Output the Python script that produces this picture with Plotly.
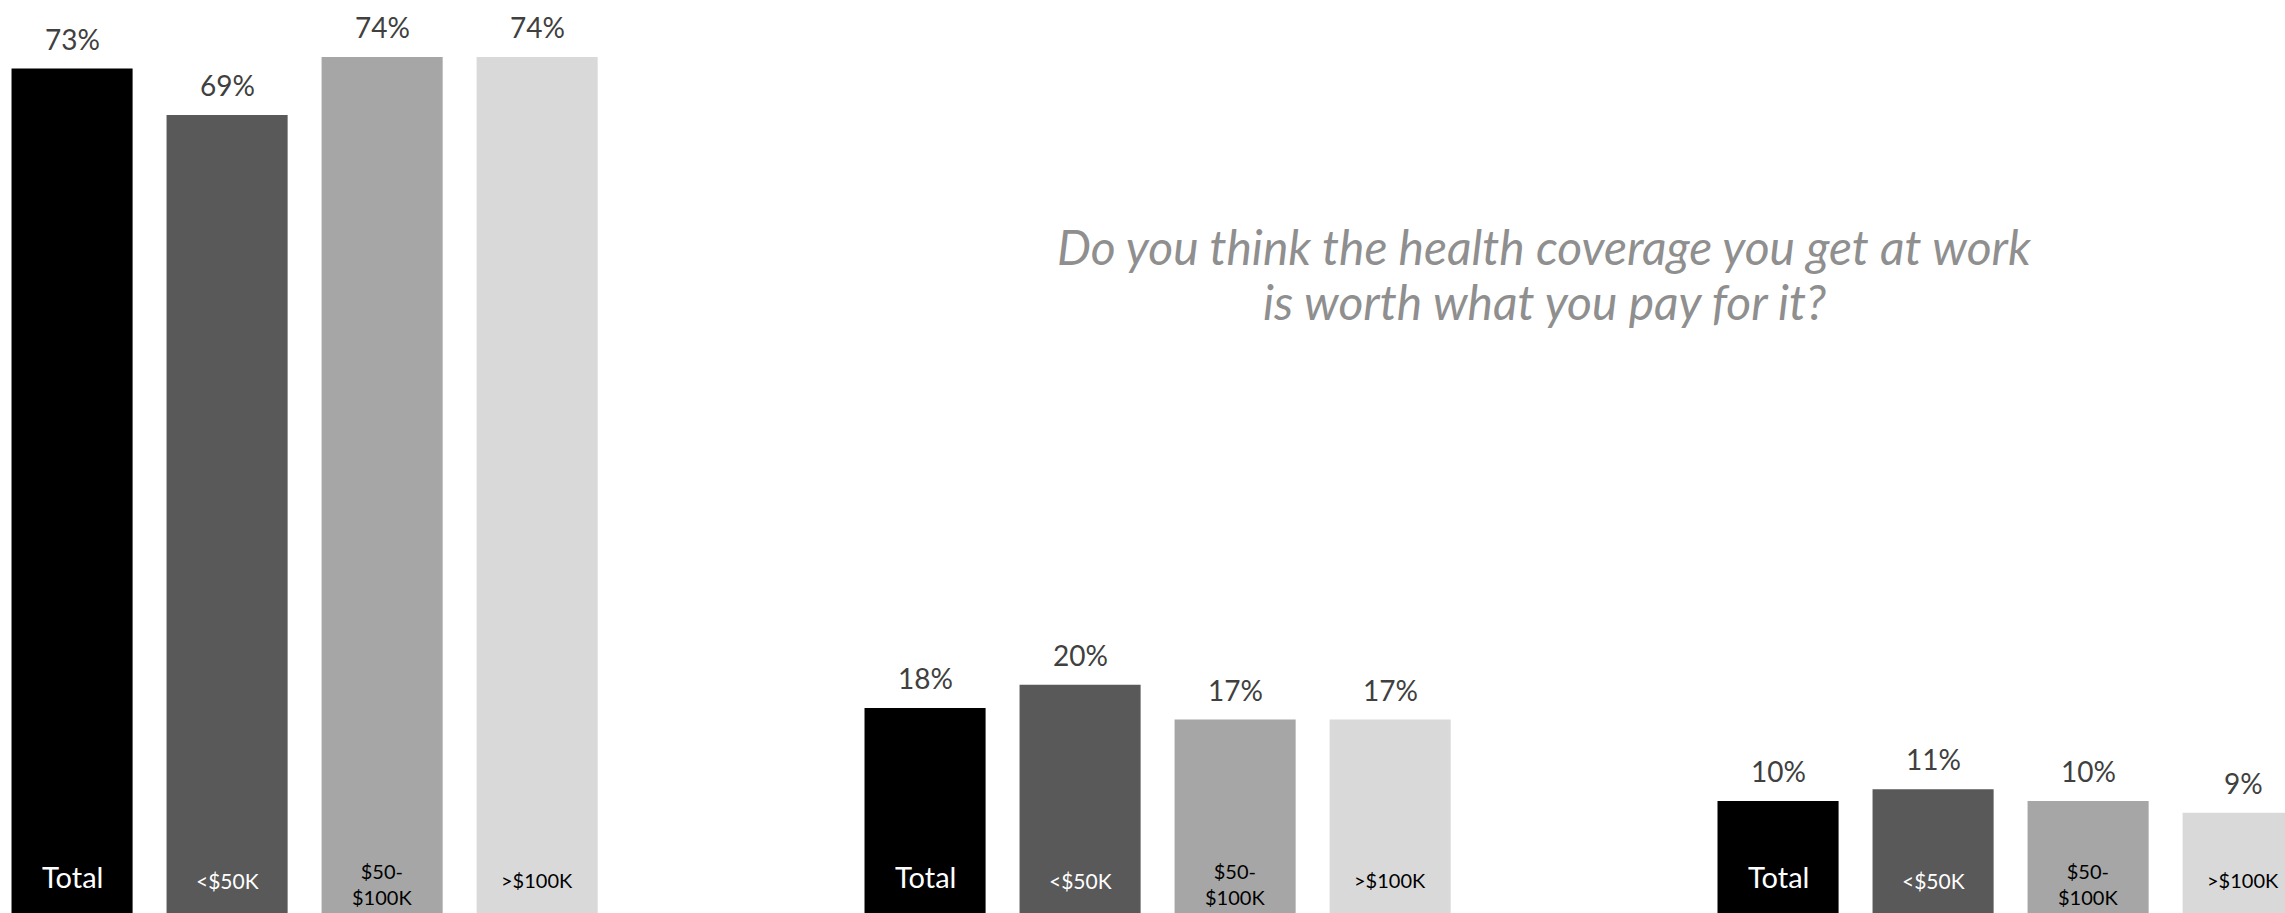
import plotly.graph_objects as go

# Income brackets (one bar per bracket in every answer group)
brackets = ["Total", "<$50K", "$50-<br>$100K", ">$100K"]
bar_colors = ["#000000", "#595959", "#a6a6a6", "#d9d9d9"]
bracket_text_colors = ["#ffffff", "#ffffff", "#000000", "#000000"]
bracket_text_sizes = [29, 21, 20, 20]

# Three answer groups laid out left to right
group_pos = [0, 1, 2]

# Share of respondents (%) per bracket, one value per answer group
pct_total = [73, 18, 10]
pct_under_50k = [69, 20, 11]
pct_50k_100k = [74, 17, 10]
pct_over_100k = [74, 17, 9]
series = [pct_total, pct_under_50k, pct_50k_100k, pct_over_100k]

title_lines = [
    "Do you think the health coverage you get at work",
    "is worth what you pay for it?",
]

FONT = "Lato, 'Noto Sans', sans-serif"
BARGAP = 0.273
BARGROUPGAP = 0.219

fig = go.Figure()
for name, vals, col in zip(brackets, series, bar_colors):
    fig.add_trace(go.Bar(
        x=group_pos, y=vals, name=name,
        marker=dict(color=col, line=dict(width=0)),
        hoverinfo="skip",
    ))

# centre of each bracket's bar inside a group, in x-axis units
slot = (1 - BARGAP) / len(brackets)
annotations = []
for i, (name, vals) in enumerate(zip(brackets, series)):
    off = (i - (len(brackets) - 1) / 2) * slot
    for g, v in zip(group_pos, vals):
        # value label above the bar
        annotations.append(dict(
            x=g + off, y=v, xref="x", yref="y",
            text=f"{v}%", showarrow=False,
            yanchor="bottom", xanchor="center", yshift=11,
            font=dict(family=FONT, size=28, color="#404040"),
        ))
        # bracket name near the foot of the bar
        annotations.append(dict(
            x=g + off, y=0, xref="x", yref="paper",
            text=name, showarrow=False,
            yanchor="middle", xanchor="center",
            yshift=37 if i == 0 else (29 if i == 2 else 33),
            font=dict(family=FONT, size=bracket_text_sizes[i],
                      color=bracket_text_colors[i]),
        ))

# two-line italic question, each line placed on its own baseline
for line, ypos in zip(title_lines, [0.6964, 0.6362]):
    annotations.append(dict(
        x=1544 / 2285, y=ypos, xref="paper", yref="paper",
        text=f"<i>{line}</i>", showarrow=False,
        xanchor="center", yanchor="bottom", align="center",
        font=dict(family=FONT, size=48, color="#8f8f8f"),
    ))

fig.update_layout(
    width=2285, height=913,
    margin=dict(l=0, r=0, t=0, b=0),
    barmode="group", bargap=BARGAP, bargroupgap=BARGROUPGAP,
    paper_bgcolor="white", plot_bgcolor="white",
    showlegend=False,
    xaxis=dict(visible=False, range=[-0.3571, 2.3217]),
    yaxis=dict(visible=False, range=[0.366, 78.9]),
    annotations=annotations,
)

fig.write_html("out.html")
